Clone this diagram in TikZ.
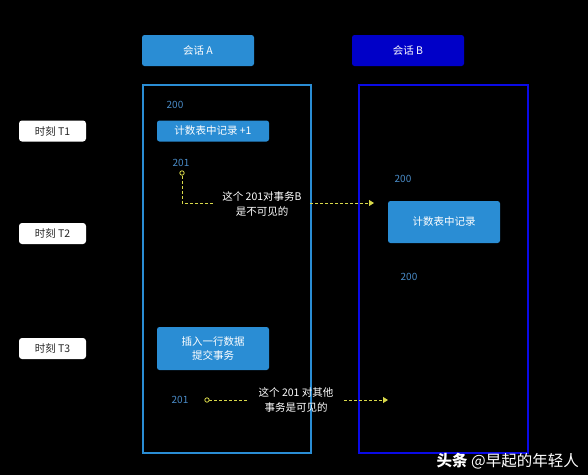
\documentclass[tikz,border=0pt]{standalone}
\usepackage{fontspec}
\setmainfont{Noto Sans CJK SC}
\usetikzlibrary{arrows.meta}
\definecolor{sessA}{HTML}{2A8DD4}
\definecolor{sessB}{HTML}{0000C8}
\definecolor{frameB}{HTML}{0A0AE6}
\definecolor{numc}{HTML}{4A8CC8}
\definecolor{yel}{HTML}{D8D84A}
\begin{document}
\begin{tikzpicture}[x=1pt,y=-1pt,
  bluebox/.style={fill=sessA,rounded corners=2.5pt,text=white,font=\fontsize{10.5}{14.5}\selectfont,align=center,inner sep=0pt},
  timebox/.style={fill=white,rounded corners=3pt,text=black!85,font=\fontsize{10.5}{12}\selectfont,inner sep=0pt,minimum width=67pt,minimum height=21pt},
  num/.style={text=numc,font=\fontsize{10}{12}\selectfont,inner sep=0pt},
  note/.style={text=white,font=\fontsize{10.5}{15}\selectfont,align=center,inner sep=0pt},
  yline/.style={yel,densely dashed,line width=0.8pt},
  ytip/.style={-{Triangle[length=5pt,width=6pt]}}
]
\fill[black] (0,0) rectangle (588,475);
\useasboundingbox (0,0) rectangle (588,475);
% headers
\node[bluebox,minimum width=112pt,minimum height=31pt] (ha) at (198,50.5) {会话 A};
\node[bluebox,fill=sessB,minimum width=112pt,minimum height=31pt] (hb) at (408,50.5) {会话 B};
% frames
\draw[sessA,line width=2.5pt] (143,85) rectangle (311,453);
\draw[frameB,line width=2.5pt] (359,85) rectangle (528,453);
% time labels
\node[timebox] (t1) at (52.5,131) {时刻 T1};
\node[timebox] (t2) at (52.5,233.5) {时刻 T2};
\node[timebox] (t3) at (52.5,348.5) {时刻 T3};
% session A content
\node[num] (n200a) at (175,105) {200};
\node[bluebox,minimum width=112pt,minimum height=21pt] (inc) at (213,131) {计数表中记录 +1};
\node[num] (n201a) at (181,163) {201};
\node[bluebox,minimum width=112pt,minimum height=43pt] (ins) at (213,348.5) {插入一行数据\\提交事务};
\node[num] (n201b) at (180,400) {201};
% session B content
\node[num] (n200b) at (403,179) {200};
\node[bluebox,minimum width=112pt,minimum height=42pt] (rec) at (444,222) {计数表中记录};
\node[num] (n200c) at (409,277) {200};
% note 1
\node[note] (note1) at (262,203.5) {这个 201对事务B\\是不可见的};
\coordinate (c1) at (182,173);
\coordinate (e1) at (374,203);
\draw[yline] ([yshift=2.2pt]c1) |- (213,203);
\draw[yline,ytip] (310,203) -- (e1);
\draw[yel,line width=0.8pt,fill=black] (c1) circle (2.2pt);
% note 2
\node[note] (note2) at (296,400) {这个 201 对其他\\事务是可见的};
\coordinate (c2) at (207,400);
\coordinate (e2) at (388,400);
\draw[yline] ([xshift=2.2pt]c2) -- (248,400);
\draw[yline,ytip] (344,400) -- (e2);
\draw[yel,line width=0.8pt,fill=black] (c2) circle (2.2pt);
% watermark
\node[text=white,font=\fontsize{15.5}{17}\selectfont,inner sep=0pt,anchor=east] (wm) at (579,461) {\textbf{头条} @早起的年轻人};
\end{tikzpicture}
\end{document}
